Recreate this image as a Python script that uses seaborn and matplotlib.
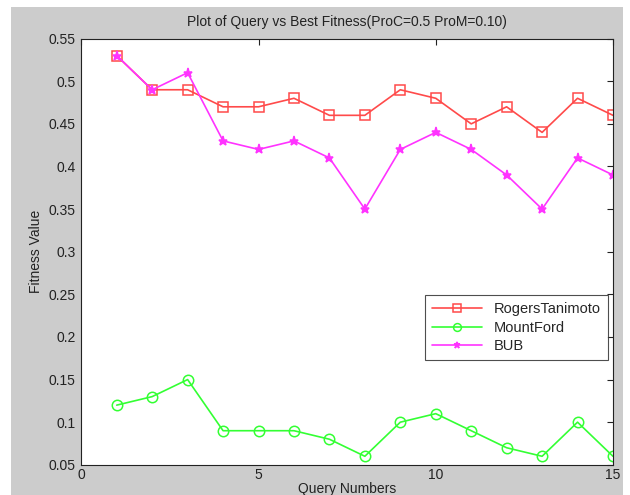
import matplotlib
matplotlib.use('Agg')
import matplotlib.pyplot as plt
from matplotlib.patches import Rectangle
import seaborn as sns
import pandas as pd

# values
queries = list(range(1, 16))
rogers = [0.53, 0.49, 0.49, 0.47, 0.47, 0.48, 0.46, 0.46, 0.49, 0.48, 0.45, 0.47, 0.44, 0.48, 0.46]
mountford = [0.12, 0.13, 0.15, 0.09, 0.09, 0.09, 0.08, 0.06, 0.10, 0.11, 0.09, 0.07, 0.06, 0.10, 0.06]
bub = [0.53, 0.49, 0.51, 0.43, 0.42, 0.43, 0.41, 0.35, 0.42, 0.44, 0.42, 0.39, 0.35, 0.41, 0.39]

sns.set_style('white')
plt.rcParams['font.family'] = ['Liberation Sans', 'DejaVu Sans']

fig = plt.figure(figsize=(6.3, 4.95), dpi=100, facecolor='white')
# gray MATLAB figure background (screenshot has a thin white border)
fig.patches.append(Rectangle((0.0175, 0.0), 0.971, 0.986, transform=fig.transFigure,
                             facecolor='#cccccc', edgecolor='none', zorder=-10))
ax = fig.add_axes([0.129, 0.061, 0.844, 0.861])

series = [
    ('RogersTanimoto', rogers, '#ff4a4a', 's', 7.5, 'none'),
    ('MountFord', mountford, '#33ff33', 'o', 7.5, 'none'),
    ('BUB', bub, '#ff33ff', '*', 6.5, '#ff33ff'),
]
for name, vals, col, mk, ms, mfc in series:
    df = pd.DataFrame({'Query': queries, 'Fitness': vals})
    sns.lineplot(data=df, x='Query', y='Fitness', ax=ax, color=col, marker=mk,
                 markersize=ms, markerfacecolor=mfc, markeredgecolor=col,
                 markeredgewidth=1.1, linewidth=1.2, label=name)

ax.set_xlim(0, 15)
ax.set_ylim(0.05, 0.55)
ax.set_xticks([0, 5, 10, 15])
ax.set_yticks([0.05, 0.1, 0.15, 0.2, 0.25, 0.3, 0.35, 0.4, 0.45, 0.5, 0.55])
ax.set_yticklabels(['0.05', '0.1', '0.15', '0.2', '0.25', '0.3', '0.35', '0.4', '0.45', '0.5', '0.55'])
ax.tick_params(direction='in', top=True, right=True, length=4, width=0.8,
               labelsize=10, colors='#222222', pad=4)
ax.tick_params(axis='x', pad=2.5)
for s in ax.spines.values():
    s.set_color('#222222')
    s.set_linewidth(0.8)

ax.set_title('Plot of Query vs Best Fitness(ProC=0.5 ProM=0.10)', fontsize=10, color='#222222', pad=9)
ax.set_xlabel('Query Numbers', fontsize=10, color='#222222', labelpad=0)
ax.set_ylabel('Fitness Value', fontsize=10, color='#222222', labelpad=4)

leg = ax.legend(loc='lower left', bbox_to_anchor=(0.633, 0.228), fontsize=10.5,
                frameon=True, fancybox=False, borderpad=0.5, labelspacing=0.3,
                handlelength=3.4, markerscale=0.75, edgecolor='#222222')
leg.get_frame().set_linewidth(0.8)

fig.savefig('out.png', dpi=100, facecolor=fig.get_facecolor())
